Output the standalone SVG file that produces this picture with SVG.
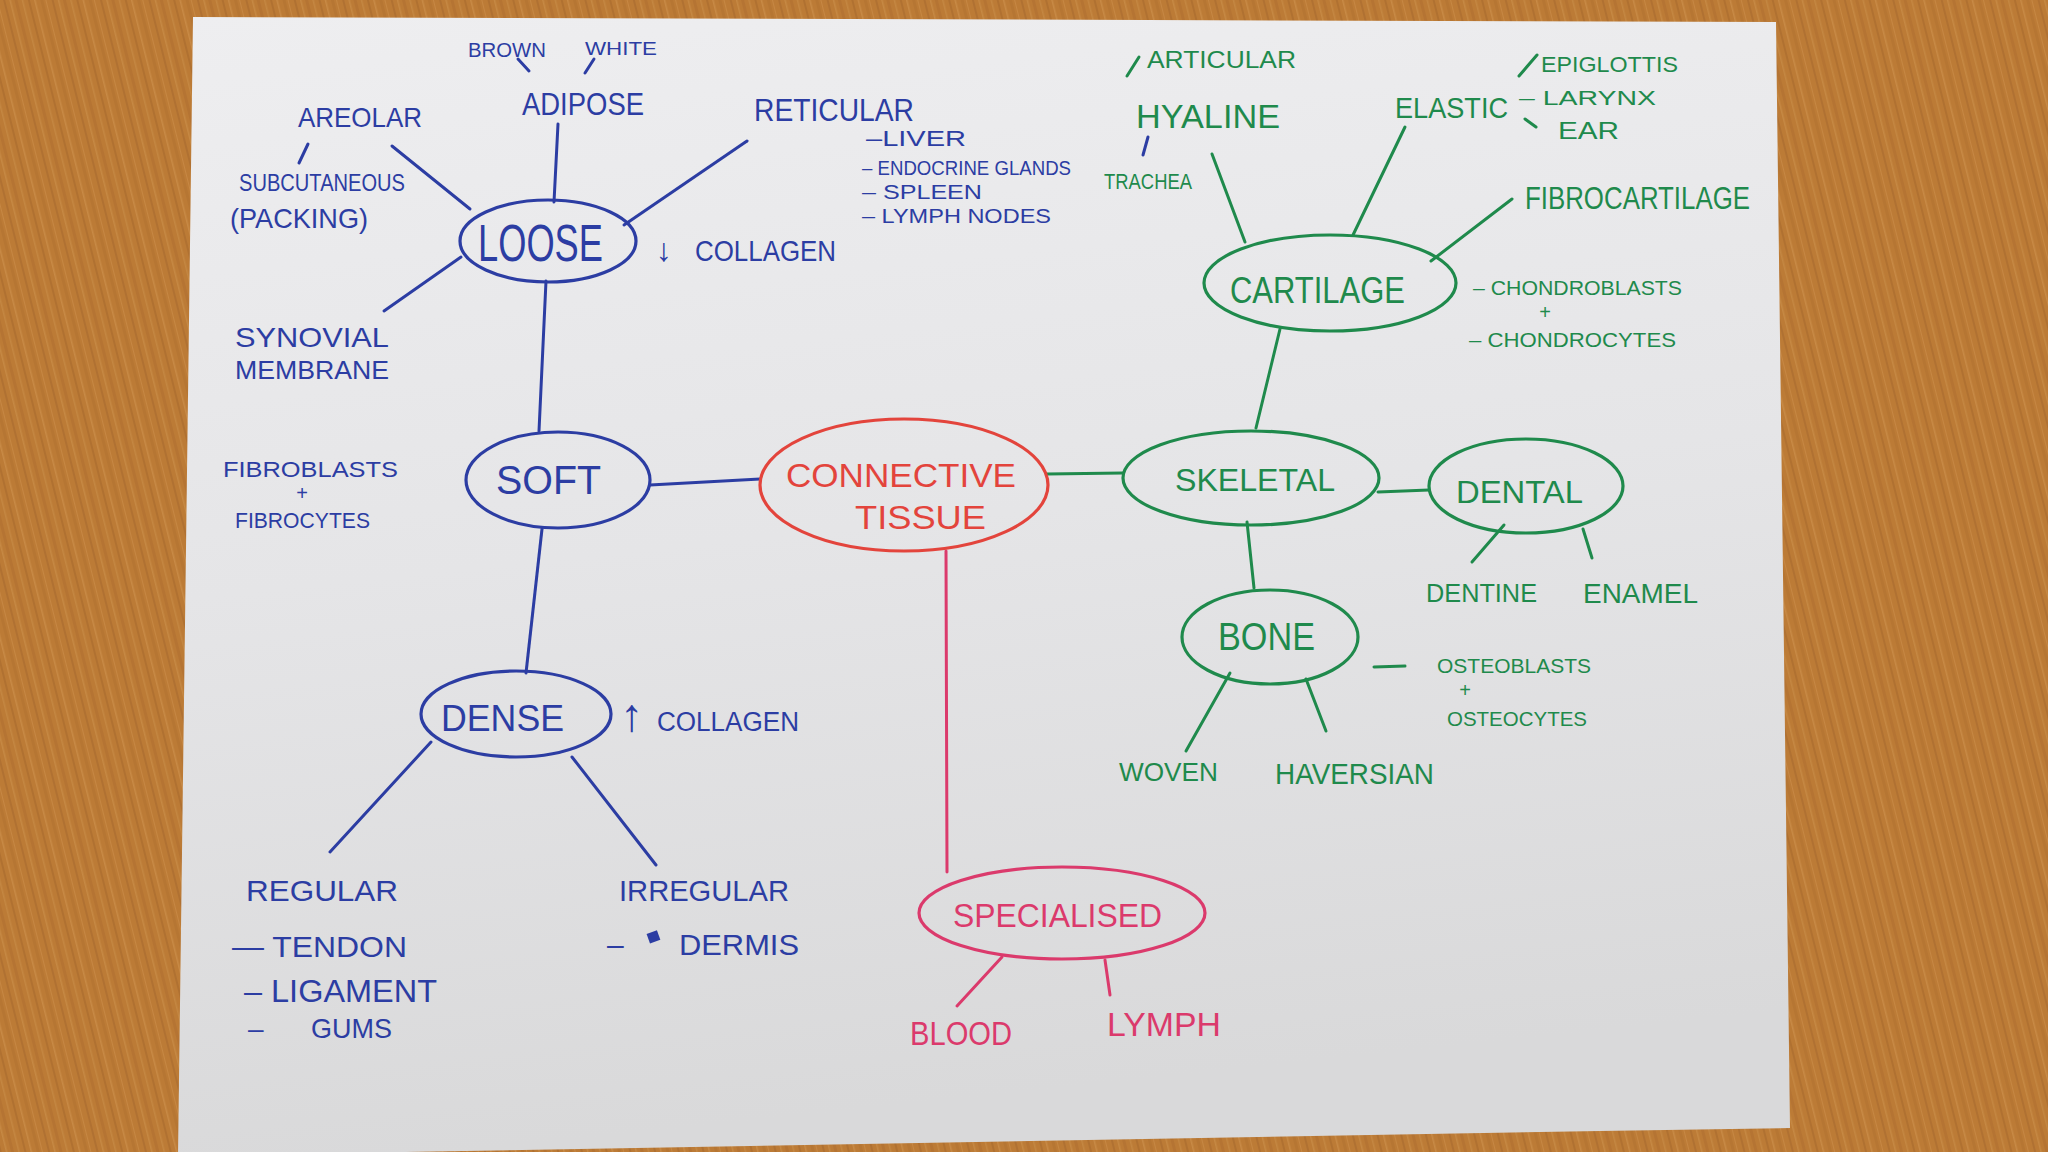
<svg xmlns="http://www.w3.org/2000/svg" width="2048" height="1152" viewBox="0 0 2048 1152">
<style>
text{font-family:"Liberation Sans","DejaVu Sans",sans-serif;}
.b{fill:#2c3da3;} .g{fill:#1f8a4c;} .r{fill:#e3443c;} .p{fill:#db3a6c;}
.sb{stroke:#2c3da3;} .sg{stroke:#1f8a4c;} .sr{stroke:#e3443c;} .sp{stroke:#db3a6c;}
.ln{fill:none;stroke-width:3;stroke-linecap:round;}
.ov{fill:none;stroke-width:3.2;}
</style>
<defs>
<pattern id="wood" width="47" height="200" patternUnits="userSpaceOnUse" patternTransform="rotate(-14)">
<rect width="47" height="200" fill="#bc7b36"/>
<rect x="3" width="2" height="200" fill="#a96b2e" opacity="0.6"/>
<rect x="9" width="1.5" height="200" fill="#d09752" opacity="0.5"/>
<rect x="14" width="3" height="200" fill="#ad6d2f" opacity="0.5"/>
<rect x="21" width="1.5" height="200" fill="#cf9550" opacity="0.45"/>
<rect x="27" width="2" height="200" fill="#a66a2d" opacity="0.55"/>
<rect x="33" width="1.5" height="200" fill="#d39a55" opacity="0.5"/>
<rect x="39" width="3" height="200" fill="#b0712f" opacity="0.5"/>
<rect x="44" width="1" height="200" fill="#cf9450" opacity="0.5"/>
</pattern>
<linearGradient id="paper" x1="0" y1="0" x2="0.15" y2="1">
<stop offset="0" stop-color="#eeeef0"/>
<stop offset="0.5" stop-color="#e5e5e7"/>
<stop offset="1" stop-color="#d9d9da"/>
</linearGradient>
</defs>
<rect width="2048" height="1152" fill="url(#wood)"/>
<polygon points="193,17 1776,22 1790,1128 1600,1131 178,1156" fill="url(#paper)"/>

<g id="connectors" class="ln">
<line class="sb" x1="392" y1="146" x2="470" y2="209"/>
<line class="sb" x1="558" y1="124" x2="554" y2="202"/>
<line class="sb" x1="747" y1="141" x2="624" y2="225"/>
<line class="sb" x1="461" y1="257" x2="384" y2="311"/>
<line class="sb" x1="546" y1="281" x2="539" y2="431"/>
<line class="sb" x1="308" y1="144" x2="299" y2="163"/>
<line class="sb" x1="518" y1="59" x2="529" y2="71"/>
<line class="sb" x1="594" y1="59" x2="585" y2="73"/>
<line class="sb" x1="650" y1="485" x2="760" y2="479"/>
<line class="sb" x1="542" y1="529" x2="526" y2="673"/>
<line class="sb" x1="431" y1="742" x2="330" y2="852"/>
<line class="sb" x1="572" y1="757" x2="656" y2="865"/>
<line class="sp" x1="946" y1="551" x2="947" y2="872"/>
<line class="sp" x1="1002" y1="957" x2="957" y2="1006"/>
<line class="sp" x1="1105" y1="960" x2="1110" y2="995"/>
<line class="sg" x1="1047" y1="474" x2="1123" y2="473"/>
<line class="sg" x1="1378" y1="492" x2="1429" y2="490"/>
<line class="sg" x1="1504" y1="525" x2="1472" y2="562"/>
<line class="sg" x1="1583" y1="529" x2="1592" y2="558"/>
<line class="sg" x1="1247" y1="522" x2="1254" y2="588"/>
<line class="sg" x1="1230" y1="673" x2="1186" y2="751"/>
<line class="sg" x1="1306" y1="679" x2="1326" y2="731"/>
<line class="sg" x1="1256" y1="428" x2="1280" y2="329"/>
<line class="sg" x1="1245" y1="242" x2="1212" y2="154"/>
<line class="sg" x1="1353" y1="235" x2="1405" y2="127"/>
<line class="sg" x1="1431" y1="261" x2="1512" y2="199"/>
<line class="sg" x1="1127" y1="76" x2="1139" y2="57"/>
<line class="sb" x1="1148" y1="137" x2="1143" y2="155"/>
<line class="sg" x1="1519" y1="76" x2="1537" y2="55"/>
<line class="sg" x1="1525" y1="119" x2="1536" y2="127"/>
<line class="sg" x1="1374" y1="667" x2="1405" y2="666"/>
</g>

<g id="connective-tissue">
<ellipse class="ov sr" cx="904" cy="485" rx="144" ry="66"/>
<text class="r" x="786" y="487" font-size="34" textLength="230" lengthAdjust="spacingAndGlyphs">CONNECTIVE</text>
<text class="r" x="855" y="529" font-size="34" textLength="131" lengthAdjust="spacingAndGlyphs">TISSUE</text>
</g>

<g id="loose">
<ellipse class="ov sb" cx="548" cy="241" rx="88" ry="41"/>
<text class="b" x="478" y="261" font-size="52" textLength="125" lengthAdjust="spacingAndGlyphs">LOOSE</text>
<text class="b" y="261"><tspan x="656" font-size="32">↓</tspan><tspan x="695" font-size="30" textLength="141" lengthAdjust="spacingAndGlyphs">COLLAGEN</tspan></text>
</g>
<g id="adipose">
<text class="b" x="522" y="115" font-size="32" textLength="122" lengthAdjust="spacingAndGlyphs">ADIPOSE</text>
<text class="b" x="468" y="57" font-size="20" textLength="78" lengthAdjust="spacingAndGlyphs">BROWN</text>
<text class="b" x="585" y="55" font-size="19" textLength="72" lengthAdjust="spacingAndGlyphs">WHITE</text>
</g>
<g id="areolar">
<text class="b" x="298" y="127" font-size="28" textLength="124" lengthAdjust="spacingAndGlyphs">AREOLAR</text>
<text class="b" x="239" y="191" font-size="24" textLength="166" lengthAdjust="spacingAndGlyphs">SUBCUTANEOUS</text>
<text class="b" x="230" y="228" font-size="28" textLength="138" lengthAdjust="spacingAndGlyphs">(PACKING)</text>
</g>
<g id="reticular">
<text class="b" x="754" y="121" font-size="32" textLength="160" lengthAdjust="spacingAndGlyphs">RETICULAR</text>
<text class="b" x="866" y="146" font-size="22" textLength="100" lengthAdjust="spacingAndGlyphs">–LIVER</text>
<text class="b" x="862" y="175" font-size="20" textLength="209" lengthAdjust="spacingAndGlyphs">– ENDOCRINE GLANDS</text>
<text class="b" x="862" y="199" font-size="20" textLength="120" lengthAdjust="spacingAndGlyphs">– SPLEEN</text>
<text class="b" x="862" y="223" font-size="20" textLength="189" lengthAdjust="spacingAndGlyphs">– LYMPH NODES</text>
</g>
<g id="synovial">
<text class="b" x="235" y="347" font-size="28" textLength="154" lengthAdjust="spacingAndGlyphs">SYNOVIAL</text>
<text class="b" x="235" y="379" font-size="26" textLength="154" lengthAdjust="spacingAndGlyphs">MEMBRANE</text>
</g>
<g id="soft">
<ellipse class="ov sb" cx="558" cy="480" rx="92" ry="48"/>
<text class="b" x="496" y="494" font-size="40" textLength="105" lengthAdjust="spacingAndGlyphs">SOFT</text>
<text class="b" x="223" y="477" font-size="22" textLength="175" lengthAdjust="spacingAndGlyphs">FIBROBLASTS</text>
<text class="b" x="302" y="500" font-size="20" text-anchor="middle">+</text>
<text class="b" x="235" y="528" font-size="22" textLength="135" lengthAdjust="spacingAndGlyphs">FIBROCYTES</text>
</g>
<g id="dense">
<ellipse class="ov sb" cx="516" cy="714" rx="95" ry="43"/>
<text class="b" x="441" y="731" font-size="36" textLength="123" lengthAdjust="spacingAndGlyphs">DENSE</text>
<text class="b" y="731"><tspan x="620" font-size="46">↑</tspan><tspan x="657" font-size="27" textLength="142" lengthAdjust="spacingAndGlyphs">COLLAGEN</tspan></text>
</g>
<g id="regular">
<text class="b" x="246" y="901" font-size="29" textLength="152" lengthAdjust="spacingAndGlyphs">REGULAR</text>
<text class="b" x="232" y="957" font-size="29" textLength="175" lengthAdjust="spacingAndGlyphs">— TENDON</text>
<text class="b" x="244" y="1002" font-size="31" textLength="193" lengthAdjust="spacingAndGlyphs">– LIGAMENT</text>
<text class="b" y="1038" font-size="28"><tspan x="248">–</tspan><tspan x="311" textLength="81" lengthAdjust="spacingAndGlyphs">GUMS</tspan></text>
</g>
<g id="irregular">
<text class="b" x="619" y="901" font-size="29" textLength="170" lengthAdjust="spacingAndGlyphs">IRREGULAR</text>
<text class="b" y="955" font-size="30"><tspan x="607">–</tspan><tspan x="679" textLength="120" lengthAdjust="spacingAndGlyphs">DERMIS</tspan></text>
<rect x="648" y="932" width="11" height="10" fill="#2c3da3" transform="rotate(-20 653 937)"/>
</g>

<g id="specialised">
<ellipse class="ov sp" cx="1062" cy="913" rx="143" ry="46"/>
<text class="p" x="953" y="927" font-size="34" textLength="209" lengthAdjust="spacingAndGlyphs">SPECIALISED</text>
</g>
<g id="blood"><text class="p" x="910" y="1045" font-size="33" textLength="102" lengthAdjust="spacingAndGlyphs">BLOOD</text></g>
<g id="lymph"><text class="p" x="1107" y="1036" font-size="33" textLength="114" lengthAdjust="spacingAndGlyphs">LYMPH</text></g>

<g id="skeletal">
<ellipse class="ov sg" cx="1251" cy="478" rx="128" ry="47"/>
<text class="g" x="1175" y="491" font-size="32" textLength="160" lengthAdjust="spacingAndGlyphs">SKELETAL</text>
</g>
<g id="dental">
<ellipse class="ov sg" cx="1526" cy="486" rx="97" ry="47"/>
<text class="g" x="1456" y="503" font-size="32" textLength="127" lengthAdjust="spacingAndGlyphs">DENTAL</text>
</g>
<g id="dentine"><text class="g" x="1426" y="602" font-size="26" textLength="111" lengthAdjust="spacingAndGlyphs">DENTINE</text></g>
<g id="enamel"><text class="g" x="1583" y="603" font-size="27" textLength="115" lengthAdjust="spacingAndGlyphs">ENAMEL</text></g>
<g id="bone">
<ellipse class="ov sg" cx="1270" cy="637" rx="88" ry="47"/>
<text class="g" x="1218" y="650" font-size="38" textLength="97" lengthAdjust="spacingAndGlyphs">BONE</text>
<text class="g" x="1437" y="673" font-size="20" textLength="154" lengthAdjust="spacingAndGlyphs">OSTEOBLASTS</text>
<text class="g" x="1465" y="697" font-size="20" text-anchor="middle">+</text>
<text class="g" x="1447" y="726" font-size="21" textLength="140" lengthAdjust="spacingAndGlyphs">OSTEOCYTES</text>
</g>
<g id="woven"><text class="g" x="1119" y="781" font-size="26" textLength="99" lengthAdjust="spacingAndGlyphs">WOVEN</text></g>
<g id="haversian"><text class="g" x="1275" y="784" font-size="30" textLength="159" lengthAdjust="spacingAndGlyphs">HAVERSIAN</text></g>
<g id="cartilage">
<ellipse class="ov sg" cx="1330" cy="283" rx="126" ry="48"/>
<text class="g" x="1230" y="303" font-size="36" textLength="175" lengthAdjust="spacingAndGlyphs">CARTILAGE</text>
<text class="g" x="1473" y="295" font-size="21" textLength="209" lengthAdjust="spacingAndGlyphs">– CHONDROBLASTS</text>
<text class="g" x="1545" y="319" font-size="20" text-anchor="middle">+</text>
<text class="g" x="1469" y="347" font-size="21" textLength="207" lengthAdjust="spacingAndGlyphs">– CHONDROCYTES</text>
</g>
<g id="hyaline">
<text class="g" x="1136" y="128" font-size="33" textLength="144" lengthAdjust="spacingAndGlyphs">HYALINE</text>
<text class="g" x="1147" y="68" font-size="23" textLength="149" lengthAdjust="spacingAndGlyphs">ARTICULAR</text>
<text class="g" x="1104" y="189" font-size="22" textLength="88" lengthAdjust="spacingAndGlyphs">TRACHEA</text>
</g>
<g id="elastic">
<text class="g" x="1395" y="118" font-size="29" textLength="113" lengthAdjust="spacingAndGlyphs">ELASTIC</text>
<text class="g" x="1541" y="72" font-size="22" textLength="137" lengthAdjust="spacingAndGlyphs">EPIGLOTTIS</text>
<text class="g" x="1519" y="105" font-size="20" textLength="137" lengthAdjust="spacingAndGlyphs">– LARYNX</text>
<text class="g" x="1558" y="139" font-size="23" textLength="61" lengthAdjust="spacingAndGlyphs">EAR</text>
</g>
<g id="fibrocartilage"><text class="g" x="1525" y="209" font-size="32" textLength="225" lengthAdjust="spacingAndGlyphs">FIBROCARTILAGE</text></g>
</svg>
